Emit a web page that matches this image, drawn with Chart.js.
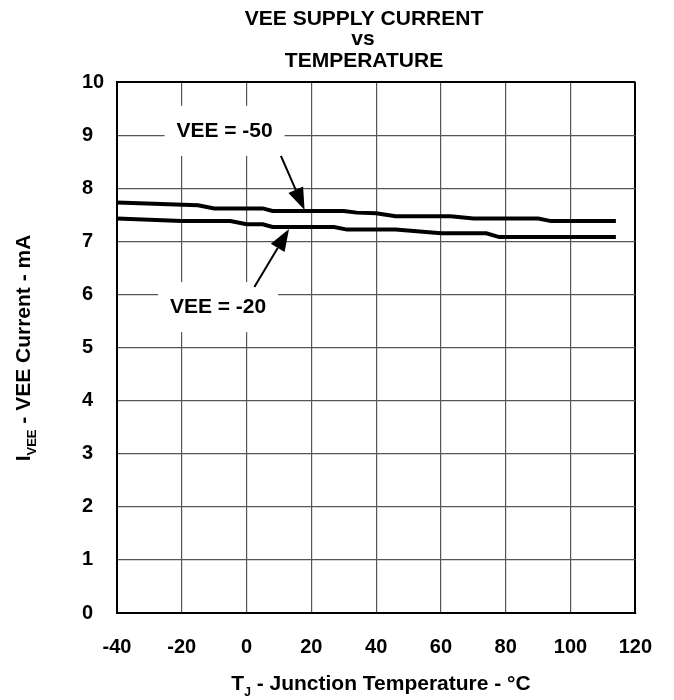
<!DOCTYPE html>
<html>
<head>
<meta charset="utf-8">
<script src="https://cdn.jsdelivr.net/npm/chart.js@4.4.1/dist/chart.umd.min.js"></script>
<style>
  html, body { margin: 0; padding: 0; background: #fff; }
</style>
</head>
<body>
<canvas id="chart" width="674" height="700" style="width:674px;height:700px"></canvas>
<script>
// data
const tempsA = [-40, -15, -10, 5, 8, 30, 34, 40, 46, 63, 70, 90, 94, 114];
const ieeA   = [7.73, 7.68, 7.62, 7.62, 7.57, 7.57, 7.54, 7.53, 7.47, 7.47, 7.43, 7.43, 7.38, 7.38];
const tempsB = [-40, -20, -5, 0, 5, 8, 27, 31, 46, 60, 74, 78, 114];
const ieeB   = [7.43, 7.38, 7.38, 7.32, 7.32, 7.27, 7.27, 7.22, 7.22, 7.15, 7.15, 7.08, 7.08];
const seriesNames = ['VEE = -50', 'VEE = -20'];
const xTicks = [-40, -20, 0, 20, 40, 60, 80, 100, 120];
const yTicks = [0, 1, 2, 3, 4, 5, 6, 7, 8, 9, 10];

// callouts (data coordinates)
const noteAt    = [[-6.8, 9.08], [-8.8, 5.76]];
const arrowFrom = [[10.6, 8.61], [2.4, 6.14]];
const arrowTo   = [[17.9, 7.59], [13.1, 7.23]];

const FONT = "'Liberation Sans', Arial, sans-serif";

function toPoints(xs, ys) {
  return xs.map((t, i) => ({ x: t, y: ys[i] }));
}

// draw text with a subscript piece, centered on x=0
function subText(ctx, main, sub, rest, size, subSize, subDrop) {
  ctx.font = 'bold ' + size + 'px ' + FONT;
  const w1 = ctx.measureText(main).width;
  const w3 = ctx.measureText(rest).width;
  ctx.font = 'bold ' + subSize + 'px ' + FONT;
  const w2 = ctx.measureText(sub).width;
  let x = -(w1 + w2 + w3) / 2;
  ctx.textAlign = 'left';
  ctx.textBaseline = 'alphabetic';
  ctx.font = 'bold ' + size + 'px ' + FONT;
  ctx.fillText(main, x, 0);
  x += w1;
  ctx.font = 'bold ' + subSize + 'px ' + FONT;
  ctx.fillText(sub, x, subDrop);
  x += w2;
  ctx.font = 'bold ' + size + 'px ' + FONT;
  ctx.fillText(rest, x, 0);
}

const notes = {
  id: 'notes',
  beforeDatasetsDraw(chart) {
    const { ctx, scales: { x, y } } = chart;
    ctx.save();
    ctx.fillStyle = '#fff';
    noteAt.forEach(p => {
      const cx = x.getPixelForValue(p[0]);
      const cy = y.getPixelForValue(p[1]);
      ctx.fillRect(cx - 60, cy - 25, 120, 50);
    });
    ctx.restore();
  },
  afterDatasetsDraw(chart) {
    const { ctx, scales: { x, y } } = chart;
    ctx.save();
    ctx.fillStyle = '#000';
    ctx.strokeStyle = '#000';
    ctx.font = 'bold 21px ' + FONT;
    ctx.textAlign = 'center';
    ctx.textBaseline = 'middle';
    noteAt.forEach((p, i) => {
      ctx.fillText(seriesNames[i], x.getPixelForValue(p[0]), y.getPixelForValue(p[1]));
    });
    // arrows
    arrowFrom.forEach((a, i) => {
      const x0 = x.getPixelForValue(a[0]), y0 = y.getPixelForValue(a[1]);
      const x1 = x.getPixelForValue(arrowTo[i][0]), y1 = y.getPixelForValue(arrowTo[i][1]);
      const ang = Math.atan2(y1 - y0, x1 - x0);
      const len = 22, hw = 8;
      const bx = x1 - len * Math.cos(ang), by = y1 - len * Math.sin(ang);
      ctx.lineWidth = 2;
      ctx.beginPath();
      ctx.moveTo(x0, y0);
      ctx.lineTo(bx, by);
      ctx.stroke();
      ctx.beginPath();
      ctx.moveTo(x1, y1);
      ctx.lineTo(bx + hw * Math.sin(ang), by - hw * Math.cos(ang));
      ctx.lineTo(bx - hw * Math.sin(ang), by + hw * Math.cos(ang));
      ctx.closePath();
      ctx.fill();
    });
    ctx.restore();
  },
  afterDraw(chart) {
    const { ctx } = chart;
    ctx.save();
    ctx.fillStyle = '#000';
    // title
    ctx.font = 'bold 21px ' + FONT;
    ctx.textAlign = 'center';
    ctx.textBaseline = 'alphabetic';
    ctx.fillText('VEE SUPPLY CURRENT', 364, 25);
    ctx.fillText('vs', 363, 45);
    ctx.fillText('TEMPERATURE', 364, 67);
    // x axis title
    ctx.save();
    ctx.translate(381, 690);
    subText(ctx, 'T', 'J', ' - Junction Temperature - °C', 21, 12, 6);
    ctx.restore();
    // y axis title
    ctx.save();
    ctx.translate(30, 348);
    ctx.rotate(-Math.PI / 2);
    subText(ctx, 'I', 'VEE', ' - VEE Current - mA', 21, 13, 6);
    ctx.restore();
    ctx.restore();
  }
};

new Chart(document.getElementById('chart'), {
  type: 'line',
  data: {
    datasets: [
      { label: seriesNames[0], data: toPoints(tempsA, ieeA) },
      { label: seriesNames[1], data: toPoints(tempsB, ieeB) }
    ]
  },
  options: {
    responsive: false,
    animation: false,
    layout: { padding: { left: 82, top: 82, right: 37, bottom: 0 } },
    elements: {
      line: { borderColor: '#000', borderWidth: 4, tension: 0, fill: false },
      point: { radius: 0 }
    },
    plugins: { legend: { display: false }, tooltip: { enabled: false } },
    scales: {
      x: {
        type: 'linear',
        min: xTicks[0],
        max: xTicks[xTicks.length - 1],
        afterBuildTicks: s => { s.ticks = xTicks.map(v => ({ value: v })); },
        afterFit: s => { s.height = 87; },
        ticks: { color: '#000', padding: 22, font: { family: FONT, size: 20, weight: 'bold' } },
        grid: {
          drawTicks: false,
          color: ctx => ctx.tick && ctx.tick.value === 120 ? '#000' : '#555',
          lineWidth: ctx => ctx.tick && ctx.tick.value === 120 ? 2 : 1.2
        },
        border: { color: '#000', width: 2 }
      },
      y: {
        min: yTicks[0],
        max: yTicks[yTicks.length - 1],
        afterBuildTicks: s => { s.ticks = yTicks.map(v => ({ value: v })); },
        afterFit: s => { s.width = 35; },
        ticks: { color: '#000', crossAlign: 'far', font: { family: FONT, size: 20, weight: 'bold' } },
        grid: {
          drawTicks: false,
          color: ctx => ctx.tick && ctx.tick.value === 10 ? '#000' : '#555',
          lineWidth: ctx => ctx.tick && ctx.tick.value === 10 ? 2 : 1.2
        },
        border: { color: '#000', width: 2 }
      }
    }
  },
  plugins: [notes]
});
</script>
</body>
</html>
